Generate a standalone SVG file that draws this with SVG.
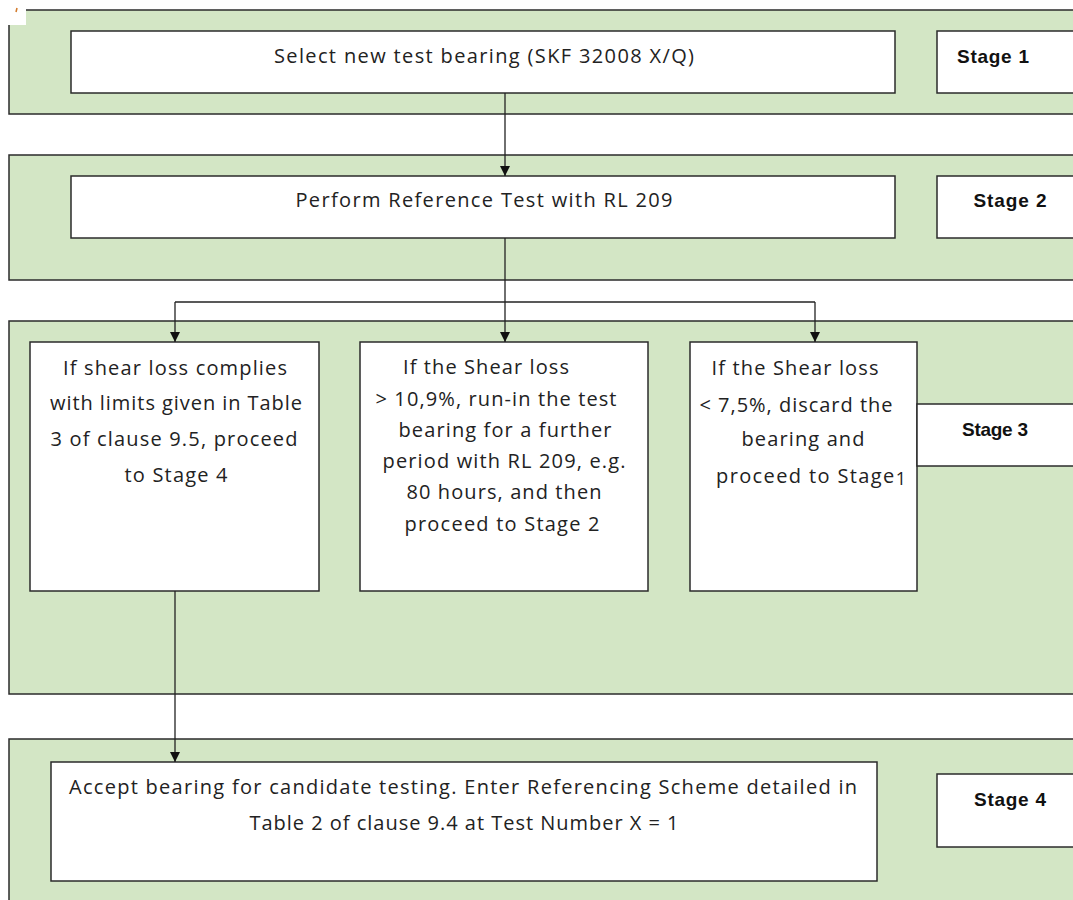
<svg xmlns="http://www.w3.org/2000/svg" width="1073" height="900" viewBox="0 0 1073 900">
<style>
.band{fill:#d3e6c5;stroke:#2b2b2b;stroke-width:1.5}
.box{fill:#ffffff;stroke:#2b2b2b;stroke-width:1.5}
.t{font-family:"Open Sans","Liberation Sans",Arial,sans-serif;font-size:20px;fill:#222;text-anchor:middle}
.s{font-family:"Liberation Sans",Arial,sans-serif;font-size:19px;font-weight:bold;fill:#111;text-anchor:middle}
.c{fill:none;stroke:#222;stroke-width:1.3}
</style>
<defs>
<marker id="ah" viewBox="0 0 10 10" refX="10" refY="5" markerWidth="10" markerHeight="10" markerUnits="userSpaceOnUse" orient="auto">
<path d="M0,0 L10,5 L0,10 Z" fill="#111"/>
</marker>
</defs>
<rect width="1073" height="900" fill="#ffffff"/>
<g id="stage1">
<rect class="band" x="9" y="10" width="1080" height="104"/>
<rect x="0" y="0" width="26" height="25" fill="#ffffff"/>
<line x1="17" y1="8" x2="16" y2="12" stroke="#d27a2a" stroke-width="1.5"/>
<g id="n-select"><rect class="box" x="71" y="31" width="824" height="62"/>
<text class="t" x="484" y="63" textLength="420">Select new test bearing (SKF 32008 X/Q)</text></g>
<g id="n-stage1"><rect class="box" x="937" y="31" width="150" height="62"/>
<text class="s" x="993" y="63" textLength="72">Stage 1</text></g>
</g>
<g id="stage2">
<rect class="band" x="9" y="155" width="1080" height="125"/>
<g id="n-reference"><rect class="box" x="71" y="176" width="824" height="62"/>
<text class="t" x="484" y="207" textLength="377">Perform Reference Test with RL 209</text></g>
<g id="n-stage2"><rect class="box" x="937" y="176" width="150" height="62"/>
<text class="s" x="1010" y="207" textLength="73">Stage 2</text></g>
</g>
<g id="stage3">
<rect class="band" x="9" y="321" width="1080" height="373"/>
<g id="n-comply"><rect class="box" x="30" y="342" width="289" height="249"/>
<text class="t" x="175" y="375" textLength="224">If shear loss complies</text>
<text class="t" x="176" y="410" textLength="252">with limits given in Table</text>
<text class="t" x="174" y="446" textLength="247">3 of clause 9.5, proceed</text>
<text class="t" x="176" y="482" textLength="103">to Stage 4</text></g>
<g id="n-high"><rect class="box" x="360" y="342" width="288" height="249"/>
<text class="t" x="486" y="374" textLength="166">If the Shear loss</text>
<text class="t" x="496" y="406" textLength="241">&gt; 10,9%, run-in the test</text>
<text class="t" x="505" y="437" textLength="213">bearing for a further</text>
<text class="t" x="504" y="468" textLength="243">period with RL 209, e.g.</text>
<text class="t" x="504" y="499" textLength="195">80 hours, and then</text>
<text class="t" x="502" y="531" textLength="195">proceed to Stage 2</text></g>
<g id="n-low"><rect class="box" x="690" y="342" width="227" height="249"/>
<text class="t" x="795" y="375" textLength="167">If the Shear loss</text>
<text class="t" x="796" y="412" textLength="193">&lt; 7,5%, discard the</text>
<text class="t" x="803" y="446" textLength="123">bearing and</text>
<text class="t" x="811" y="483" textLength="190">proceed to Stage<tspan font-size="18" dy="2">1</tspan></text></g>
<g id="n-stage3"><rect class="box" x="917" y="404" width="170" height="62"/>
<text class="s" x="995" y="436" textLength="66">Stage 3</text></g>
</g>
<g id="stage4">
<rect class="band" x="9" y="739" width="1080" height="170"/>
<g id="n-accept"><rect class="box" x="51" y="762" width="826" height="119"/>
<text class="t" x="463" y="794" textLength="788">Accept bearing for candidate testing. Enter Referencing Scheme detailed in</text>
<text class="t" x="464" y="830" textLength="429">Table 2 of clause 9.4 at Test Number X = 1</text></g>
<g id="n-stage4"><rect class="box" x="937" y="774" width="150" height="73"/>
<text class="s" x="1010" y="806" textLength="72">Stage 4</text></g>
</g>
<g id="connectors">
<path class="c" d="M505,93 V176" marker-end="url(#ah)"/>
<path class="c" d="M505,238 V302"/>
<path class="c" d="M175,302 H815"/>
<path class="c" d="M175,302 V342" marker-end="url(#ah)"/>
<path class="c" d="M505,302 V342" marker-end="url(#ah)"/>
<path class="c" d="M815,302 V342" marker-end="url(#ah)"/>
<path class="c" d="M175,591 V762" marker-end="url(#ah)"/>
</g>
</svg>
